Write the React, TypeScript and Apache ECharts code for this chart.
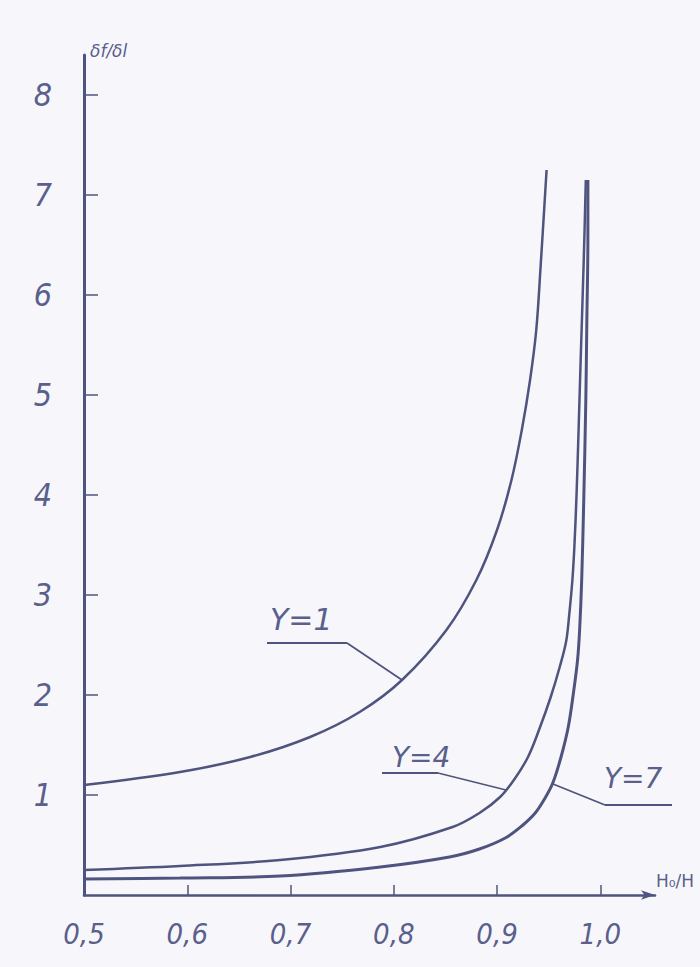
import React, { useEffect, useRef } from "react";
import * as echarts from "echarts";

// Tick values
const xTickValues = [0.5, 0.6, 0.7, 0.8, 0.9, 1.0];
const yTickValues = [1, 2, 3, 4, 5, 6, 7, 8];

// Curves: [H0/H, value]
const curveY1: [number, number][] = [
  [0.5, 1.1], [0.593, 1.23], [0.661, 1.38], [0.719, 1.58], [0.767, 1.83],
  [0.808, 2.15], [0.851, 2.65], [0.88, 3.15], [0.9, 3.65], [0.914, 4.15],
  [0.924, 4.65], [0.932, 5.15], [0.938, 5.65], [0.942, 6.25], [0.948, 7.25],
];
const curveY4: [number, number][] = [
  [0.5, 0.25], [0.593, 0.29], [0.69, 0.35], [0.787, 0.48], [0.857, 0.68],
  [0.883, 0.82], [0.903, 0.98], [0.917, 1.16], [0.93, 1.38], [0.941, 1.66],
  [0.952, 1.98], [0.961, 2.29], [0.967, 2.54], [0.97, 2.81], [0.973, 3.15],
  [0.975, 3.5], [0.977, 4.0], [0.979, 4.65], [0.981, 5.35], [0.984, 6.35],
  [0.986, 7.15],
];
const curveY7: [number, number][] = [
  [0.5, 0.16], [0.593, 0.17], [0.69, 0.19], [0.787, 0.28], [0.854, 0.38],
  [0.883, 0.46], [0.908, 0.57], [0.924, 0.69], [0.937, 0.82], [0.946, 0.96],
  [0.954, 1.12], [0.962, 1.38], [0.969, 1.68], [0.974, 2.02], [0.978, 2.35],
  [0.98, 2.65], [0.982, 3.15], [0.984, 3.95], [0.986, 4.95], [0.987, 5.75],
  [0.988, 6.55], [0.988, 7.15],
];

const curveNames = ["Y=1", "Y=4", "Y=7"];
const yAxisTitle = "δf/δl";
const xAxisTitle = "H₀/H";

const INK = "#4f547f";
const TEXT = "#5a5f8c";

export default function App() {
  const ref = useRef<HTMLDivElement>(null);
  useEffect(() => {
    document.body.style.margin = "0";
    if (!ref.current) return;
    const chart = echarts.init(ref.current, null, { renderer: "svg" });
    const lineStyleFor = (w: number) => ({ color: INK, width: w });
    const labelFont = {
      fontFamily: "DejaVu Sans",
      fontStyle: "italic" as const,
      fill: TEXT,
    };
    chart.setOption({
      animation: false,
      backgroundColor: "#f7f7fb",
      grid: { left: 84, right: 45, top: 55, bottom: 72, outerBoundsMode: "none", containLabel: false },
      xAxis: {
        type: "value",
        min: 0.5,
        max: 1.053,
        splitLine: { show: false },
        axisLine: {
          show: true,
          lineStyle: { color: INK, width: 2.5 },
          symbol: ["none", "arrow"],
          symbolSize: [7, 14],
        },
        axisTick: { show: true, inside: true, length: 10, customValues: xTickValues, lineStyle: { color: INK, width: 1.5 } },
        axisLabel: {
          customValues: xTickValues,
          formatter: (v: number) => v.toFixed(1).replace(".", ","),
          color: TEXT,
          fontSize: 29,
          fontStyle: "italic",
          fontFamily: "DejaVu Sans Condensed",
          margin: 24,
        },
      },
      yAxis: {
        type: "value",
        min: 0,
        max: 8.4,
        splitLine: { show: false },
        axisLine: { show: true, lineStyle: { color: INK, width: 3 } },
        axisTick: { show: true, inside: true, length: 14, customValues: yTickValues, lineStyle: { color: INK, width: 1.5 } },
        axisLabel: {
          customValues: yTickValues,
          color: TEXT,
          fontSize: 32,
          fontStyle: "italic",
          fontFamily: "DejaVu Sans Condensed",
          margin: 32,
        },
      },
      series: [
        { name: curveNames[0], type: "line", data: curveY1, showSymbol: false, smooth: 0.35, lineStyle: lineStyleFor(2.5) },
        { name: curveNames[1], type: "line", data: curveY4, showSymbol: false, smooth: 0.35, lineStyle: lineStyleFor(2.5) },
        { name: curveNames[2], type: "line", data: curveY7, showSymbol: false, smooth: 0.35, lineStyle: lineStyleFor(3) },
      ],
      graphic: [
        // Y=1 label with leader
        { type: "text", left: 270, top: 604, style: { ...labelFont, text: curveNames[0], fontSize: 30 } },
        { type: "line", shape: { x1: 267, y1: 643, x2: 347, y2: 643 }, style: { stroke: INK, lineWidth: 2 } },
        { type: "line", shape: { x1: 347, y1: 643, x2: 402, y2: 680 }, style: { stroke: INK, lineWidth: 1.8 } },
        // Y=4 label with leader
        { type: "text", left: 392, top: 743, style: { ...labelFont, text: curveNames[1], fontSize: 28 } },
        { type: "line", shape: { x1: 382, y1: 773, x2: 438, y2: 773 }, style: { stroke: INK, lineWidth: 2 } },
        { type: "line", shape: { x1: 438, y1: 773, x2: 506, y2: 790 }, style: { stroke: INK, lineWidth: 1.8 } },
        // Y=7 label with leader
        { type: "text", left: 604, top: 764, style: { ...labelFont, text: curveNames[2], fontSize: 28 } },
        { type: "line", shape: { x1: 605, y1: 805, x2: 672, y2: 805 }, style: { stroke: INK, lineWidth: 2 } },
        { type: "line", shape: { x1: 553, y1: 784, x2: 605, y2: 805 }, style: { stroke: INK, lineWidth: 1.8 } },
        // axis titles
        { type: "text", left: 90, top: 42, style: { ...labelFont, text: yAxisTitle, fontSize: 17 } },
        { type: "text", left: 656, top: 872, style: { ...labelFont, fontStyle: "normal", text: xAxisTitle, fontSize: 17 } },
      ],
    });
    return () => chart.dispose();
  }, []);
  return <div ref={ref} style={{ width: 700, height: 967 }} />;
}
